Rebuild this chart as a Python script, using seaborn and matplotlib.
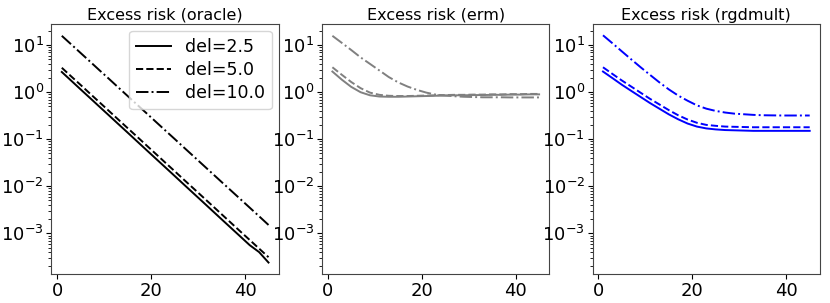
import numpy as np
import pandas as pd
import matplotlib
matplotlib.use('Agg')
import matplotlib.pyplot as plt
import seaborn as sns

# iteration index (every second step)
steps = [1, 3, 5, 7, 9, 11, 13, 15, 17, 19, 21, 23, 25, 27, 29, 31, 33, 35, 37, 39, 41, 43, 45]
deltas = ['2.5', '5.0', '10.0']

oracle_25 = [2.69, 1.76, 1.15, 0.755, 0.494, 0.324, 0.212, 0.139, 0.0908, 0.0594, 0.0389, 0.0255,
             0.0167, 0.0109, 0.00714, 0.00468, 0.00306, 0.00200, 0.00131, 0.000859, 0.000562, 0.000400, 0.000240]
oracle_50 = [3.31, 2.17, 1.43, 0.935, 0.614, 0.403, 0.264, 0.173, 0.114, 0.0746, 0.0490, 0.0321,
             0.0211, 0.0138, 0.00908, 0.00596, 0.00391, 0.00256, 0.00168, 0.00110, 0.000724, 0.000475, 0.000312]
oracle_100 = [15.8, 10.4, 6.83, 4.49, 2.94, 1.94, 1.27, 0.834, 0.547, 0.360, 0.236, 0.155,
              0.102, 0.0668, 0.0439, 0.0288, 0.0189, 0.0124, 0.00815, 0.00536, 0.00352, 0.00231, 0.00151]

erm_25 = [2.75, 1.85, 1.3, 1.0, 0.86, 0.81, 0.80, 0.80, 0.81, 0.82, 0.83, 0.84,
          0.85, 0.86, 0.86, 0.87, 0.87, 0.88, 0.88, 0.89, 0.89, 0.90, 0.90]
erm_50 = [3.39, 2.35, 1.65, 1.22, 0.98, 0.88, 0.84, 0.83, 0.83, 0.84, 0.85, 0.86,
          0.87, 0.88, 0.88, 0.89, 0.89, 0.90, 0.90, 0.91, 0.91, 0.92, 0.92]
erm_100 = [15.8, 11.2, 7.9, 5.5, 4.0, 2.9, 2.1, 1.62, 1.32, 1.12, 0.98, 0.89,
           0.85, 0.82, 0.80, 0.79, 0.78, 0.78, 0.78, 0.775, 0.775, 0.775, 0.775]

rgd_25 = [2.75, 2.0, 1.445, 1.07, 0.794, 0.589, 0.447, 0.339, 0.266, 0.216, 0.186, 0.170,
          0.162, 0.157, 0.155, 0.153, 0.151, 0.151, 0.151, 0.151, 0.151, 0.151, 0.151]
rgd_50 = [3.39, 2.45, 1.78, 1.32, 0.977, 0.724, 0.55, 0.417, 0.324, 0.263, 0.224, 0.202,
          0.193, 0.186, 0.184, 0.182, 0.180, 0.180, 0.180, 0.180, 0.180, 0.180, 0.180]
rgd_100 = [16.2, 11.0, 7.4, 5.0, 3.4, 2.34, 1.62, 1.15, 0.85, 0.66, 0.525, 0.447,
           0.40, 0.37, 0.35, 0.34, 0.33, 0.324, 0.322, 0.32, 0.32, 0.32, 0.32]

methods = ['oracle', 'erm', 'rgdmult']
colors = {'oracle': 'black', 'erm': 'gray', 'rgdmult': 'blue'}
series = {'oracle': [oracle_25, oracle_50, oracle_100],
          'erm': [erm_25, erm_50, erm_100],
          'rgdmult': [rgd_25, rgd_50, rgd_100]}

rows = []
for m in methods:
    for d, vals in zip(deltas, series[m]):
        for t, v in zip(steps, vals):
            rows.append({'method': m, 'del': 'del=' + d, 't': t, 'risk': v})
df = pd.DataFrame(rows)

plt.rcParams['font.family'] = ['DejaVu Sans']
dashes = {'del=2.5': '', 'del=5.0': (3.7, 1.6), 'del=10.0': (6.4, 1.6, 1.0, 1.6)}

fig, axes = plt.subplots(1, 3, figsize=(8.3, 3.03), dpi=100, sharey=True)
fig.subplots_adjust(left=0.062, right=0.988, bottom=0.096, top=0.921, wspace=0.19)

for i, (ax, m) in enumerate(zip(axes, methods)):
    sub = df[df.method == m]
    sns.lineplot(data=sub, x='t', y='risk', style='del', dashes=dashes,
                 color=colors[m], linewidth=1.4, ax=ax, legend=(i == 0))
    ax.set_yscale('log')
    ax.set_title('Excess risk (' + m + ')', fontsize=11.5, pad=3)
    ax.set_xlabel('')
    ax.set_ylabel('')
    ax.set_xticks([0, 20, 40])
    ax.tick_params(labelsize=13, labelleft=True, pad=2)
    for s in ax.spines.values():
        s.set_color('#444444')

leg = axes[0].legend(loc='upper right', fontsize=12.5, handlelength=2.0,
                     labelspacing=0.3, borderaxespad=0.4)
leg.get_frame().set_edgecolor('#cccccc')

plt.savefig('out.png', dpi=100)
